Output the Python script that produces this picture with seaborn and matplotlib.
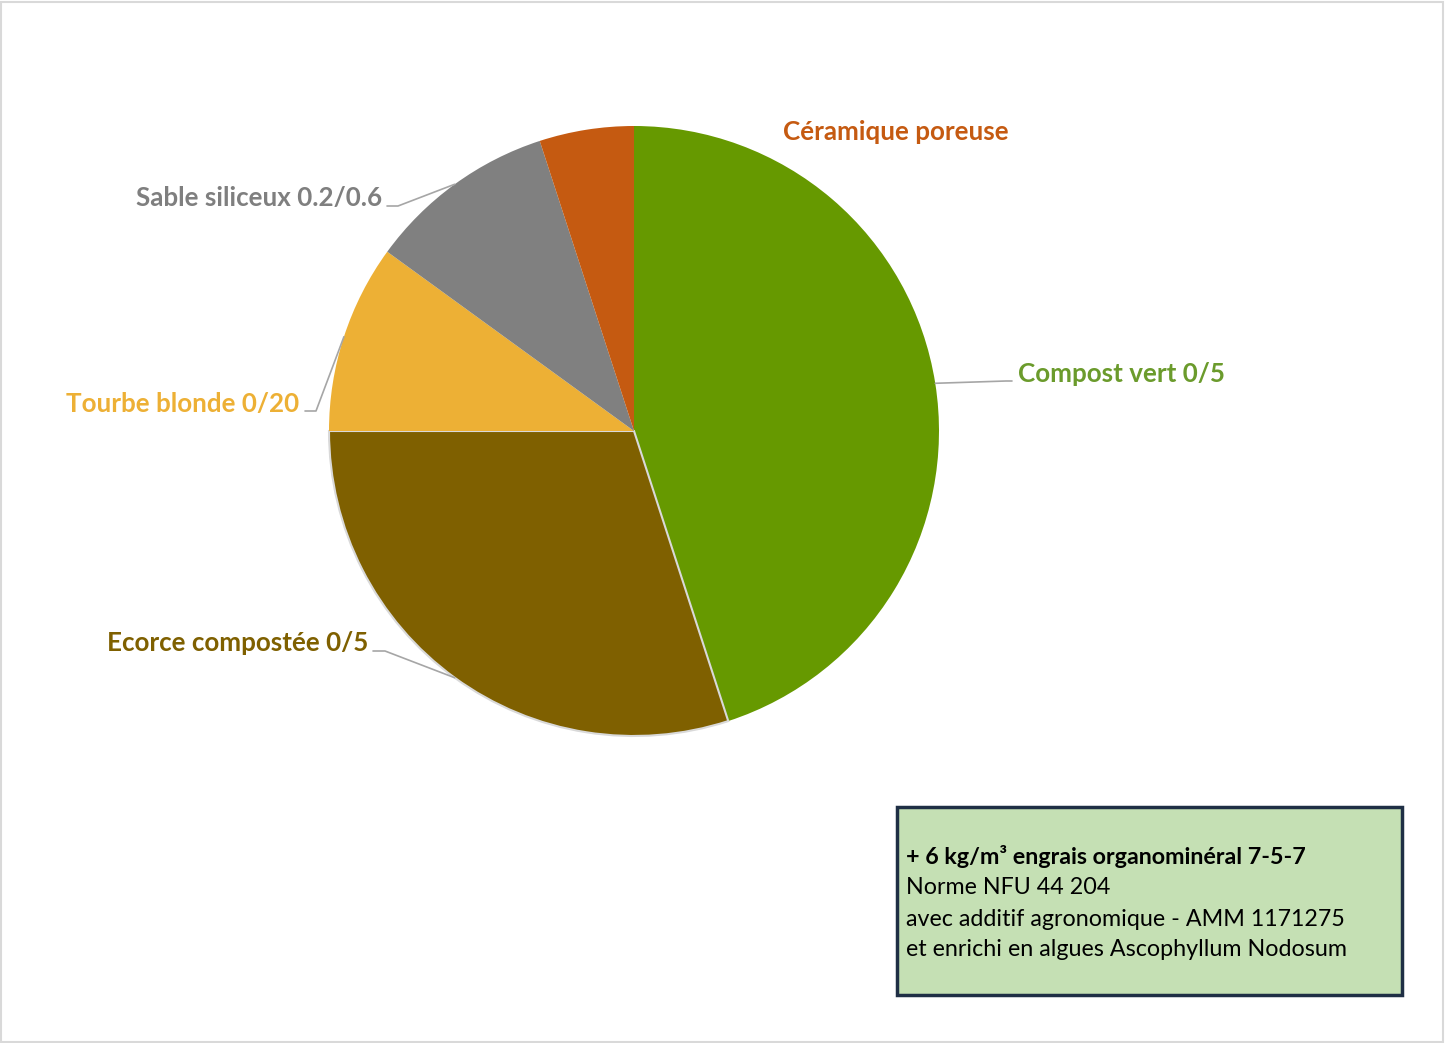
import numpy as np
import matplotlib
matplotlib.use("Agg")
import matplotlib.pyplot as plt
import seaborn as sns
from matplotlib.patches import Rectangle
from matplotlib.lines import Line2D

sns.set_theme(style="white")
plt.rcParams['font.family'] = ['Lato', 'DejaVu Sans']

# ---- data ----
categories = ["Compost vert 0/5", "Ecorce compostée 0/5", "Tourbe blonde 0/20",
              "Sable siliceux 0.2/0.6", "Céramique poreuse"]
values = [45, 30, 10, 10, 5]
slice_colors = ["#669900", "#7F6000", "#EDB035", "#808080", "#C55A11"]
label_colors = ["#6B9B2C", "#7F6000", "#EDB035", "#7F7F7F", "#C55A11"]
note_title = "+ 6 kg/m³ engrais organominéral 7-5-7"
note_lines = ["Norme NFU 44 204",
              "avec additif agronomique - AMM 1171275",
              "et enrichi en algues Ascophyllum Nodosum"]

W, H = 1445, 1043
fig = plt.figure(figsize=(W / 100, H / 100), dpi=100)
fig.patch.set_facecolor("white")

cx, cy, R = 634, 431, 305
ax = fig.add_axes([(cx - R) / W, 1 - (cy + R) / H, 2 * R / W, 2 * R / H])
wedges, _ = ax.pie(values, colors=slice_colors, startangle=90, counterclock=False,
                   radius=1.0, wedgeprops=dict(linewidth=0))
# light edge on the bark slice
wedges[1].set_edgecolor("#D9D9D9")
wedges[1].set_linewidth(1.5)
ax.set_xlim(-1, 1)
ax.set_ylim(-1, 1)
ax.set_aspect("equal")
ax.axis("off")


def px2d(px, py):
    return (px - cx) / R, (cy - py) / R


# label layout: (text x px, text y px, ha, elbow px, end px)
layout = [
    (1018, 374, "left", (1006, 381), (1012, 381)),
    (368, 643, "right", (385, 651), (373, 651)),
    (299, 404, "right", (316, 411), (305, 411)),
    (382, 198, "right", (398, 206), (387, 206)),
    (783, 132, "left", None, None),
]

for w, cat, col, (tx, ty, ha, elbow, end) in zip(wedges, categories, label_colors, layout):
    fig.text(tx / W, 1 - ty / H, cat, color=col, ha=ha, va="center",
             fontsize=18.7, fontweight="bold")
    if elbow is not None:
        mid = np.deg2rad((w.theta1 + w.theta2) / 2)
        ex, ey = np.cos(mid), np.sin(mid)
        bx, by = px2d(*elbow)
        fx, fy = px2d(*end)
        ax.add_line(Line2D([ex, bx, fx], [ey, by, fy], color="#A6A6A6",
                           linewidth=1.2, clip_on=False))

# note box
bx0, by0, bx1, by1 = 897, 807, 1402, 995
fig.patches.append(Rectangle((bx0 / W, 1 - by1 / H), (bx1 - bx0) / W, (by1 - by0) / H,
                             transform=fig.transFigure, facecolor="#C5E0B4",
                             edgecolor="#1F2F45", linewidth=2.5))
fig.text(906 / W, 1 - 857 / H, note_title, ha="left", va="center",
         fontsize=16.75, fontweight="bold", color="black")
for i, line in enumerate(note_lines):
    fig.text(906 / W, 1 - (888 + 31 * i) / H, line, ha="left", va="center",
             fontsize=16.75, color="black")

# outer border
fig.patches.append(Rectangle((1 / W, 1 / H), (W - 3) / W, (H - 3) / H,
                             transform=fig.transFigure, facecolor="none",
                             edgecolor="#D9D9D9", linewidth=1.5))

fig.savefig("out.png", dpi=100, facecolor="white")
